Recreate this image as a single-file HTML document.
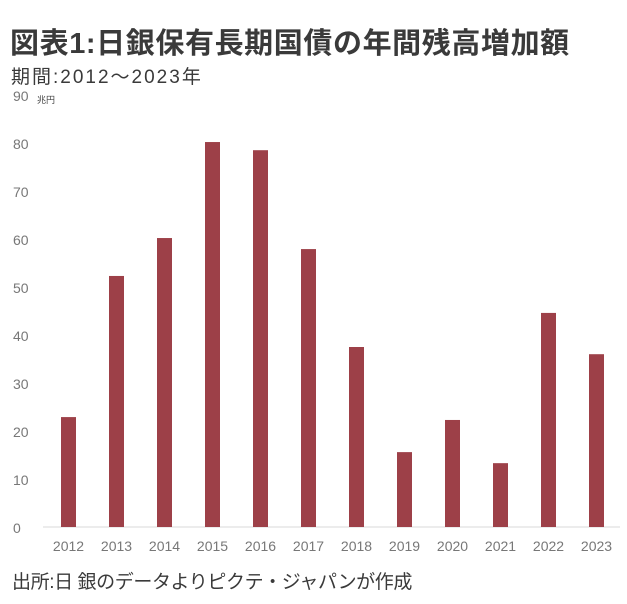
<!DOCTYPE html>
<html><head><meta charset="utf-8"><style>
body{margin:0;background:#fff;width:627px;height:604px;overflow:hidden;font-family:"Liberation Sans","Noto Sans CJK JP",sans-serif}
.t{position:absolute;left:10px;top:20px;font-size:29px;font-weight:bold;color:#3a3a3a;letter-spacing:0.6px}
.s{position:absolute;left:11px;top:62px;font-size:19px;color:#3a3a3a;letter-spacing:2px}
.f{position:absolute;left:12px;top:567px;font-size:19px;color:#3a3a3a;letter-spacing:-0.4px}
</style></head><body>
<div class="t">図表1:日銀保有長期国債の年間残高増加額</div>
<div class="s">期間:2012～2023年</div>
<svg id="c" width="627" height="604" style="position:absolute;left:0;top:0"></svg>
<div class="f">出所:日 銀のデータよりピクテ・ジャパンが作成</div>
<script>
const categories=["2012","2013","2014","2015","2016","2017","2018","2019","2020","2021","2022","2023"];
const values=[22.9,52.3,60.2,80.2,78.5,57.9,37.5,15.6,22.3,13.3,44.6,36.0];
const yTicks=[0,10,20,30,40,50,60,70,80,90];
const svg=document.getElementById('c');
const NS='http://www.w3.org/2000/svg';
const y0=527,pxPer=4.8;
function yS(v){return y0-v*pxPer;}
function xS(i){return 68.5+i*48;}
function mk(tag,attrs){const e=document.createElementNS(NS,tag);for(const k in attrs)e.setAttribute(k,attrs[k]);svg.appendChild(e);return e;}
yTicks.forEach(t=>{
  const e=mk('text',{x:13,y:yS(t)+6,'font-size':14,fill:'#777','font-family':'Liberation Sans, sans-serif'});
  e.textContent=t;
  
  
});
const u=mk('text',{x:37,y:yS(90)+8,'font-size':9,fill:'#444','font-family':'Noto Sans CJK JP, sans-serif'});
u.textContent='兆円';


const ax=mk('line',{x1:43,x2:620,y1:y0,y2:y0,stroke:'#d9d9d9','stroke-width':1});


values.forEach((v,i)=>{
  const r=mk('rect',{x:xS(i)-7.5,y:yS(v),width:15,height:v*pxPer,fill:'#9d4048'});
  
  
  const l=mk('text',{x:xS(i),y:551,'font-size':14,fill:'#777','text-anchor':'middle','font-family':'Liberation Sans, sans-serif'});
  l.textContent=categories[i];
  
  
});
</script>
</body></html>
